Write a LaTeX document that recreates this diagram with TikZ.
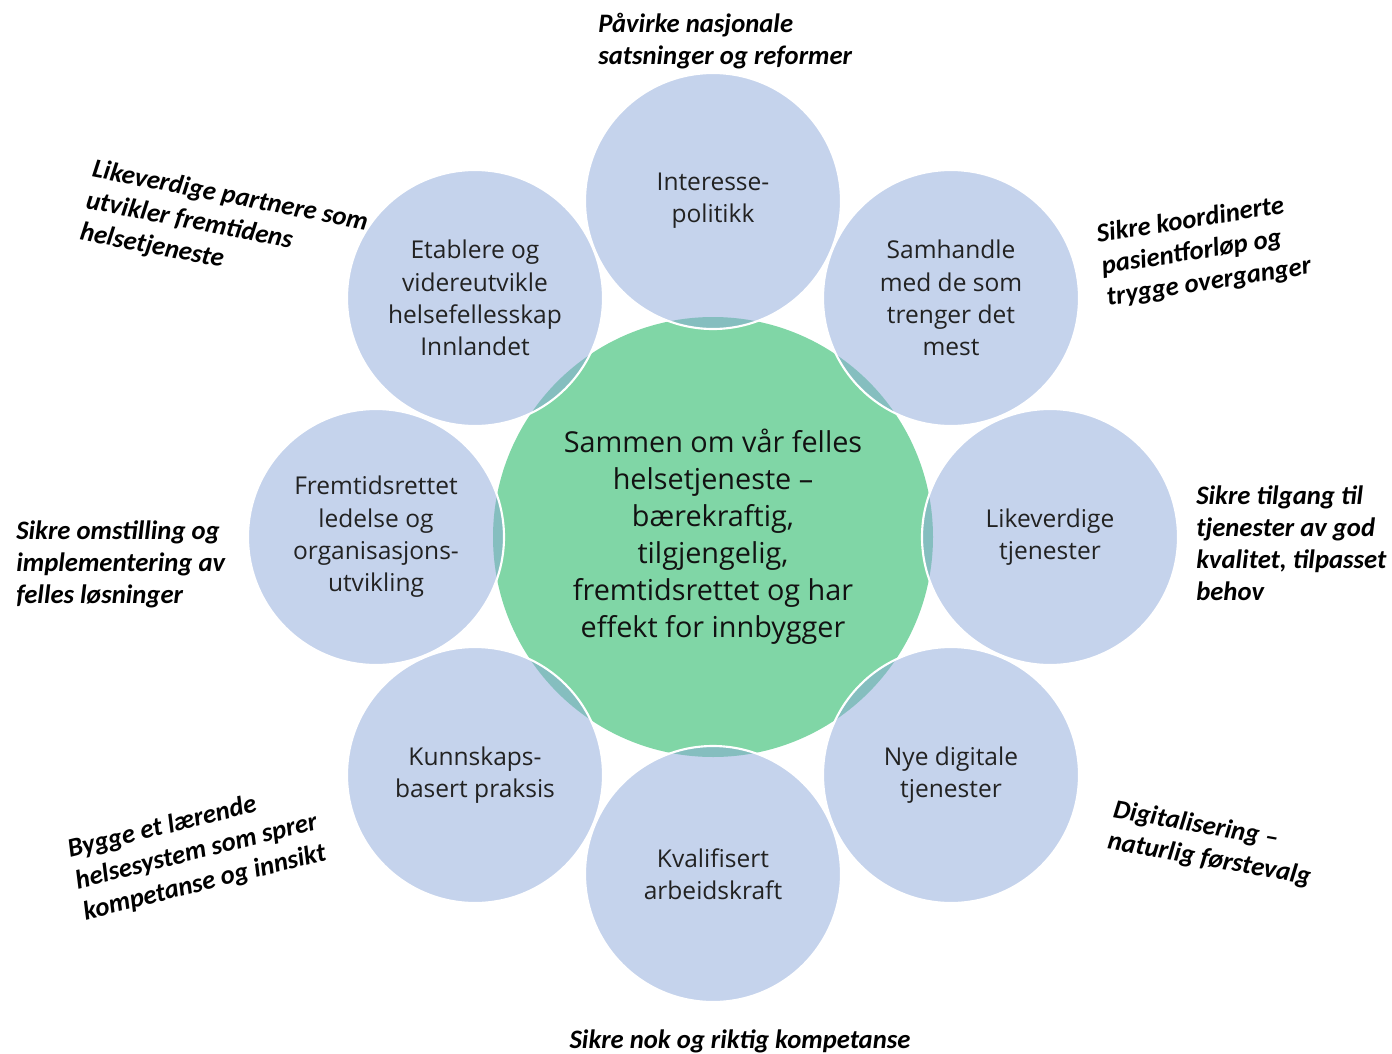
\documentclass[tikz,border=0pt]{standalone}
\usepackage{fontspec}
\usepackage{tikz}
\usetikzlibrary{positioning}
\newfontfamily\circlefont{Open Sans}
\newfontfamily\labelfont{Carlito}
\definecolor{hubgreen}{RGB}{128,214,166}
\definecolor{spokeblue}{RGB}{139,167,217}
\definecolor{spoketext}{RGB}{34,34,34}
\definecolor{hubtext}{RGB}{18,18,18}

\begin{document}
\begin{tikzpicture}[x=0.75pt, y=-0.75pt,
        hubnode/.style={circle, fill=hubgreen, minimum size=330pt, inner sep=0pt, align=center, text=hubtext,
                font=\circlefont\fontsize{21.6}{27.8}\selectfont},
        spokenode/.style={circle, preaction={fill=spokeblue, fill opacity=0.5}, draw=white, line width=1.6pt,
                minimum size=192pt, inner sep=0pt, align=center, text=spoketext,
                font=\circlefont\fontsize{18.4}{24.2}\selectfont},
        goalnode/.style={align=left, inner sep=0pt, text=black,
                font=\labelfont\bfseries\itshape\fontsize{20}{24}\selectfont},
]
        \useasboundingbox (0,0) rectangle (1392,1053);

        \node[hubnode] (hub) at (713,537) {Sammen om vår felles\\helsetjeneste –\\bærekraftig,\\tilgjengelig,\\fremtidsrettet og har\\effekt for innbygger};

        \node[spokenode] (interesse) at (713,201) {Interesse-\\politikk};
        \node[spokenode] (samhandle) at (951,298) {Samhandle\\med de som\\trenger det\\mest};
        \node[spokenode] (likeverdige) at (1050,537) {Likeverdige\\tjenester};
        \node[spokenode] (digitale) at (951,775) {Nye digitale\\tjenester};
        \node[spokenode] (kvalifisert) at (713,874) {Kvalifisert\\arbeidskraft};
        \node[spokenode] (kunnskap) at (475,775) {Kunnskaps-\\basert praksis};
        \node[spokenode] (ledelse) at (376,537) {Fremtidsrettet\\ledelse og\\organisasjons-\\utvikling};
        \node[spokenode] (etablere) at (475,298) {Etablere og\\videreutvikle\\helsefellesskap\\Innlandet};

        \node[goalnode, anchor=west] (goaltop) at (598,41) {Påvirke nasjonale\\satsninger og reformer};
        \node[goalnode, rotate=9] (goalur) at (1204,251) {Sikre koordinerte\\pasientforløp og\\trygge overganger};
        \node[goalnode, anchor=west] (goalright) at (1196,543) {Sikre tilgang til\\tjenester av god\\kvalitet, tilpasset\\behov};
        \node[goalnode, rotate=-10] (goallr) at (1212,844) {Digitalisering –\\naturlig førstevalg};
        \node[goalnode] (goalbottom) at (740,1041) {Sikre nok og riktig kompetanse};
        \node[goalnode, rotate=14] (goalll) at (197,852) {Bygge et lærende\\helsesystem som sprer\\kompetanse og innsikt};
        \node[goalnode, anchor=west] (goalleft) at (16,564) {Sikre omstilling og\\implementering av\\felles løsninger};
        \node[goalnode, rotate=-11] (goalul) at (224,228) {Likeverdige partnere som\\utvikler fremtidens\\helsetjeneste};
\end{tikzpicture}
\end{document}
